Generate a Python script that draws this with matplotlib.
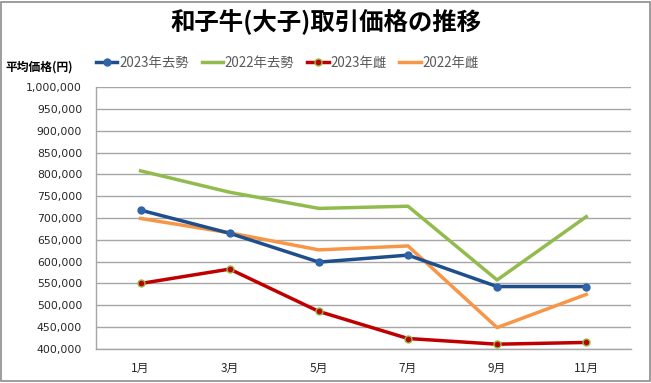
import matplotlib
matplotlib.use("Agg")
import matplotlib.pyplot as plt
from matplotlib.ticker import FuncFormatter, MultipleLocator

plt.rcParams['font.family'] = ['Noto Sans CJK JP', 'DejaVu Sans']

months = ["1月", "3月", "5月", "7月", "9月", "11月"]
steer_2023 = [718000, 665000, 599000, 615000, 543000, 543000]
steer_2022 = [808000, 759000, 722000, 727000, 558000, 703000]
heifer_2023 = [550000, 583000, 486000, 424000, 411000, 415000]
heifer_2022 = [699000, 666000, 627000, 636000, 449000, 525000]
labels = ["2023年去勢", "2022年去勢", "2023年雌", "2022年雌"]

fig = plt.figure(figsize=(6.51, 3.83), dpi=100)
fig.patches.append(plt.Rectangle((0.002, 0.004), 0.996, 0.992, transform=fig.transFigure,
                                 fill=False, edgecolor='#8c8c8c', linewidth=1.2))
ax = fig.add_axes([0.1475, 0.0888, 0.8215, 0.684])

x = list(range(len(months)))
ax.plot(x, steer_2023, color='#1f4e8c', lw=2.5, marker='o', ms=5,
        mfc='#2f64a8', mec='#2f64a8', label=labels[0], zorder=4)
ax.plot(x, steer_2022, color='#92bb4e', lw=2.5, label=labels[1], zorder=3)
ax.plot(x, heifer_2023, color='#c00000', lw=2.5, marker='o', ms=5,
        mfc='#c00000', mec='#8fbc4a', mew=1.0, label=labels[2], zorder=4)
ax.plot(x, heifer_2022, color='#f79646', lw=2.5, label=labels[3], zorder=3)

ax.set_xlim(-0.5, 5.5)
ax.set_ylim(400000, 1000000)
ax.yaxis.set_major_locator(MultipleLocator(50000))
ax.yaxis.set_major_formatter(FuncFormatter(lambda v, p: f"{int(v):,}"))
ax.set_xticks(x)
ax.set_xticklabels(months)
ax.grid(axis='y', color='#a6a6a6', lw=1.0)
ax.set_axisbelow(True)
for s in ['top', 'right']:
    ax.spines[s].set_visible(False)
for s in ['left', 'bottom']:
    ax.spines[s].set_color('#a6a6a6')
    ax.spines[s].set_linewidth(1.0)
ax.tick_params(axis='y', length=0, labelsize=7.8, colors='#262626', pad=10)
ax.tick_params(axis='x', length=0, labelsize=8.5, colors='#262626', pad=9)
for t in ax.get_yticklabels():
    t.set_family('DejaVu Sans')

fig.text(0.5, 0.943, "和子牛(大子)取引価格の推移", ha='center', va='center',
         fontsize=17.6, fontweight='bold')
fig.text(0.008, 0.825, "平均価格(円)", ha='left', va='center', fontsize=8.5, fontweight='bold')

leg = fig.legend(loc='center', bbox_to_anchor=(0.4416, 0.836), ncol=4, frameon=False,
                 fontsize=9.6, handlelength=1.6, columnspacing=0.95, handletextpad=0.15,
                 borderpad=0.2)
for t in leg.get_texts():
    t.set_color('#595959')

fig.savefig("out.png", dpi=100)
